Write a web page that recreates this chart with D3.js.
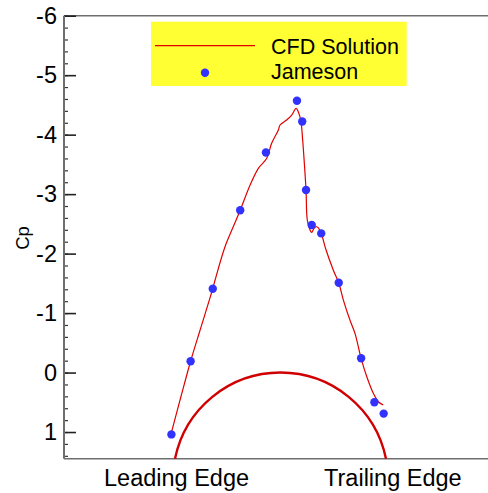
<!DOCTYPE html>
<html>
<head>
<meta charset="utf-8">
<script src="https://cdn.jsdelivr.net/npm/d3@7"></script>
<style>
  html, body { margin: 0; padding: 0; background: #ffffff; }
  svg { display: block; font-family: "Liberation Sans", Arial, sans-serif; }
</style>
</head>
<body>
<svg id="chart" width="488" height="493"></svg>
<script>
// Surface pressure coefficient along the chord (x: 0 = leading edge, 1 = trailing edge)
const cfdX  = [-0.019, 0.028, 0.074, 0.119, 0.179, 0.190, 0.237, 0.276, 0.309, 0.356, 0.395, 0.435,
               0.458, 0.490, 0.498, 0.529, 0.553, 0.574, 0.584, 0.596, 0.605, 0.613, 0.621, 0.627,
               0.640, 0.648, 0.659, 0.672, 0.681, 0.693, 0.716, 0.750, 0.776, 0.798, 0.829, 0.853,
               0.882, 0.909, 0.940, 0.964, 0.987];
const cfdCp = [1.034, 0.407, -0.19, -0.715, -1.41, -1.556, -2.116, -2.452, -2.73, -3.153, -3.434, -3.602,
               -3.854, -4.078, -4.162, -4.246, -4.330, -4.443, -4.386, -4.246, -3.910, -3.518, -3.069, -2.565,
               -2.396, -2.358, -2.425, -2.452, -2.425, -2.341, -2.060, -1.724, -1.505, -1.219, -0.883, -0.660,
               -0.239, 0.070, 0.349, 0.491, 0.546];

const jamesonX  = [-0.017, 0.074, 0.179, 0.309, 0.431, 0.578, 0.603, 0.621, 0.648, 0.693, 0.776, 0.882, 0.945, 0.989];
const jamesonCp = [1.04, -0.19, -1.41, -2.73, -3.70, -4.57, -4.22, -3.07, -2.48, -2.34, -1.51, -0.24, 0.50, 0.69];

// Airfoil profile: chord end points and crest height (in Cp units of the plot)
const chordX = [0, 1];
const crestCp = 0;

const yTicks = [-6, -5, -4, -3, -2, -1, 0, 1];
const yMinorTicks = d3.range(-6, 1.45, 0.2).map(v => +v.toFixed(1));
const xTickValues = [0.005, 1.03];
const xTickLabels = ["Leading Edge", "Trailing Edge"];
const legendLabels = ["CFD Solution", "Jameson"];

const svg = d3.select("#chart");
const W = 488, H = 493;
const plotLeft = 64, plotTop = 15.7, plotBottom = 458.8;

const x = d3.scaleLinear().domain([0, 1]).range([175, 386]);
const y = d3.scaleLinear().domain([-6, 1.45]).range([plotTop, plotBottom]);

// Frame lines (top and bottom run to the edge of the view)
const axisColor = "#6e6e6e";
svg.append("line").attr("x1", plotLeft).attr("x2", W).attr("y1", plotTop).attr("y2", plotTop)
  .attr("stroke", axisColor).attr("stroke-width", 1.6);
svg.append("line").attr("x1", plotLeft).attr("x2", W).attr("y1", plotBottom).attr("y2", plotBottom)
  .attr("stroke", axisColor).attr("stroke-width", 1.6);

// Minor ticks
svg.append("g").attr("transform", `translate(${plotLeft},0)`)
  .call(d3.axisLeft(y).tickValues(yMinorTicks).tickSize(-4).tickFormat(""))
  .call(g => g.select(".domain").remove())
  .call(g => g.selectAll("line").attr("stroke", "#333").attr("stroke-width", 1.2));

// Major ticks with labels
const yAxis = svg.append("g").attr("transform", `translate(${plotLeft},0)`)
  .call(d3.axisLeft(y).tickValues(yTicks).tickSize(-12).tickPadding(7).tickFormat(d => String(d)));
yAxis.select(".domain").remove();
yAxis.selectAll("line").attr("stroke", "#222").attr("stroke-width", 1.6);
yAxis.selectAll("text").attr("font-size", 23.5).attr("fill", "#000")
  .attr("font-family", "'Liberation Sans', Arial, sans-serif");
// vertical axis line spans full plot height
svg.append("line").attr("x1", plotLeft).attr("x2", plotLeft).attr("y1", plotTop).attr("y2", plotBottom)
  .attr("stroke", axisColor).attr("stroke-width", 2);

// Axis title
svg.append("text").attr("transform", `translate(29,238) rotate(-90)`)
  .attr("text-anchor", "middle").attr("font-size", 18.5).text("Cp");

// Chord labels
const xAxis = svg.append("g").attr("transform", `translate(0,${plotBottom})`)
  .call(d3.axisBottom(x).tickValues(xTickValues).tickSize(0).tickPadding(10)
    .tickFormat((d, i) => xTickLabels[i]));
xAxis.select(".domain").remove();
xAxis.selectAll("text").attr("font-size", 23.5).attr("fill", "#000")
  .attr("font-family", "'Liberation Sans', Arial, sans-serif")
  .attr("dy", "0.75em");

// Airfoil arc through both chord ends and the crest
const ax0 = x(chordX[0]), ax1 = x(chordX[1]), ay = y(crestCp);
const halfW = (ax1 - ax0) / 2, sag = plotBottom - ay;
const R = (halfW * halfW + sag * sag) / (2 * sag);
svg.append("path")
  .attr("d", `M${ax0},${plotBottom} A${R},${R} 0 0 1 ${ax1},${plotBottom}`)
  .attr("fill", "none").attr("stroke", "#d00000").attr("stroke-width", 2.4);

// CFD solution line
const cfd = cfdX.map((v, i) => [v, cfdCp[i]]);
svg.append("path").datum(cfd)
  .attr("d", d3.line().x(d => x(d[0])).y(d => y(d[1])).curve(d3.curveCatmullRom.alpha(0.5)))
  .attr("fill", "none").attr("stroke", "#e00000").attr("stroke-width", 1.2);

// Jameson reference points
svg.append("g").selectAll("circle")
  .data(jamesonX.map((v, i) => [v, jamesonCp[i]]))
  .join("circle")
  .attr("cx", d => x(d[0])).attr("cy", d => y(d[1])).attr("r", 4.2)
  .attr("fill", "#3232ff");

// Legend
const lg = svg.append("g");
lg.append("rect").attr("x", 151).attr("y", 21.7).attr("width", 255.7).attr("height", 64.3)
  .attr("fill", "#ffff33");
lg.append("line").attr("x1", 155).attr("x2", 255).attr("y1", 45.7).attr("y2", 45.7)
  .attr("stroke", "#e00000").attr("stroke-width", 1.2);
lg.append("circle").attr("cx", 205).attr("cy", 72.7).attr("r", 4.2).attr("fill", "#3232ff");
lg.selectAll("text").data(legendLabels).join("text")
  .attr("x", 271).attr("y", (d, i) => 53.5 + i * 25)
  .attr("font-size", 21.5).attr("fill", "#000").text(d => d);
</script>
</body>
</html>
